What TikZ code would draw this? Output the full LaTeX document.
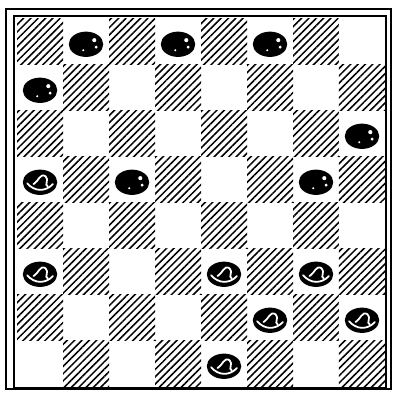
\documentclass[tikz,border=0pt]{standalone}
\usetikzlibrary{patterns.meta,shapes.geometric,calc}

\begin{document}
\begin{tikzpicture}[
    dark/.style={pattern={Lines[angle=45, distance=3.2pt, line width=0.95pt]}, pattern color=black},
    man/.style={ellipse, fill=black, inner sep=0pt, minimum width=0.75cm, minimum height=0.55cm},
    blackman/.style={man, path picture={
        \coordinate (pc) at (path picture bounding box.center);
        \fill[white] ($(pc)+(0.18,0.09)$) circle (0.045);
        \fill[white] ($(pc)+(0.22,-0.06)$) circle (0.035);
        \fill[white] ($(pc)+(-0.06,-0.13)$) circle (0.025);}},
    whiteman/.style={man, path picture={
        \coordinate (pc) at (path picture bounding box.center);
        \draw[white, line width=1.1pt, line cap=round] ($(pc)+(-0.28,-0.02)$) .. controls ($(pc)+(-0.12,-0.21)$) and ($(pc)+(0.12,-0.21)$) .. ($(pc)+(0.28,-0.04)$);
        \draw[white, line width=1.1pt, line cap=round] ($(pc)+(-0.14,-0.04)$) .. controls ($(pc)+(-0.03,0.02)$) and ($(pc)+(0.0,0.21)$) .. ($(pc)+(0.12,0.13)$) .. controls ($(pc)+(0.21,0.05)$) and ($(pc)+(0.08,-0.06)$) .. ($(pc)+(0.17,-0.09)$);}}
]
\useasboundingbox (-0.37,-0.13) rectangle (8.261,8.413);
\fill[white] (-0.37,-0.13) rectangle (8.261,8.413);

% Frame
\draw[line width=1.8pt] (-0.24,-0.045) rectangle (8.13,8.217);
\draw[line width=1pt] (-0.06,-0.02) rectangle (8.02,8.06);

% Board
\foreach \r in {0,...,7}
  \foreach \c [evaluate={\c as \cc using int(\c+mod(\r,2))}] in {0,2,4,6}
    \path[dark] (\cc,8-\r) rectangle ++(1,-1);

% Black pieces
\foreach \r/\c in {0/1, 0/3, 0/5, 1/0, 2/7, 3/2, 3/6}
  \node[blackman] (b\r\c) at (\c+0.5, 7.45-\r) {};

% White pieces
\foreach \r/\c in {3/0, 5/0, 5/4, 5/6, 6/5, 6/7, 7/4}
  \node[whiteman] (w\r\c) at (\c+0.5, 7.45-\r) {};

\end{tikzpicture}
\end{document}
